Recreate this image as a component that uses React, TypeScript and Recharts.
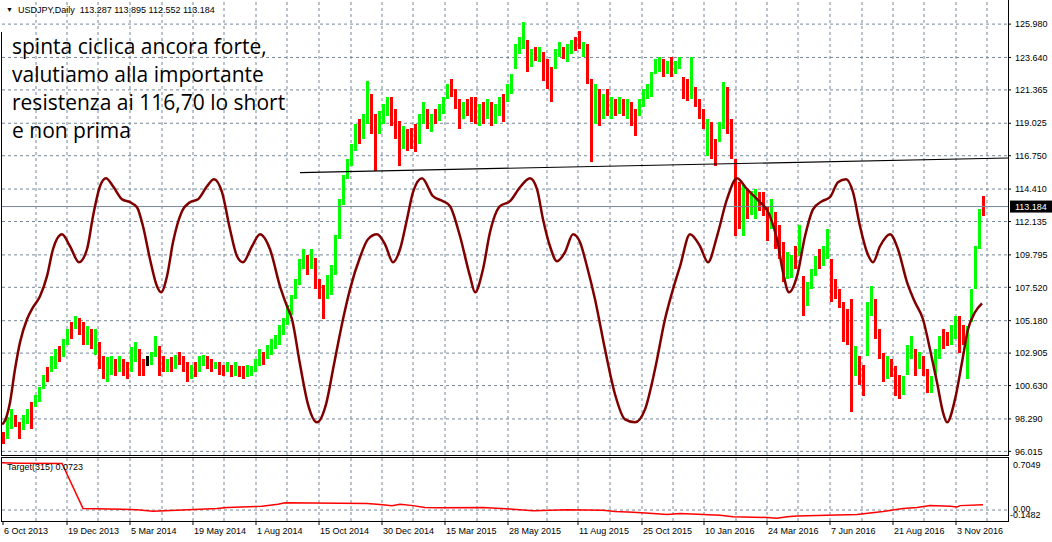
import React from 'react';
import {
  ComposedChart,
  Bar,
  Line,
  XAxis,
  YAxis,
  CartesianGrid,
  ReferenceLine,
} from 'recharts';

const FONT = '"Liberation Sans", Arial, sans-serif';
const GRID = '#778899';

// one bar index ~ one trading day; candles sampled every 4 bars
const barStart = 2;
const barStep = 4;

const barHigh = [
  97.4, 98.4, 98.96, 98.6, 98.1, 98.6, 98.96, 99.5, 100.0, 100.5,
  101.4, 101.9, 102.7, 103.2, 103.4, 103.9, 104.6, 105.1, 105.5, 105.4,
  105.1, 104.8, 104.6, 104.6, 103.7, 102.7, 102.6, 102.7, 102.5, 102.7,
  102.5, 102.3, 103.3, 103.7, 103.2, 102.5, 102.7, 103.0, 104.1, 103.4,
  102.7, 102.5, 102.6, 102.8, 103.0, 102.7, 102.3, 102.1, 102.3, 102.7,
  102.8, 102.7, 102.5, 102.3, 102.3, 102.1, 102.3, 102.1, 102.3, 102.0,
  102.0, 102.1, 102.0, 102.5, 103.2, 103.0, 103.5, 103.9, 104.2, 104.9,
  105.4, 106.3, 107.0, 108.1, 109.5, 110.2, 109.8, 110.2, 109.6, 108.1,
  107.7, 108.4, 109.1, 111.2, 113.7, 115.4, 116.5, 117.6, 119.0, 119.3,
  119.7, 122.0, 121.1, 119.7, 119.9, 120.4, 120.9, 120.9, 120.0, 119.2,
  118.8, 118.6, 118.7, 119.0, 119.7, 120.5, 120.0, 119.7, 120.0, 120.4,
  120.9, 121.8, 122.1, 121.4, 120.7, 120.5, 120.7, 120.9, 120.9, 120.4,
  120.5, 120.7, 120.5, 120.4, 120.9, 121.1, 121.8, 122.5, 124.6, 125.1,
  126.1, 124.9, 124.2, 124.4, 124.4, 124.0, 123.5, 123.0, 124.2, 124.7,
  124.4, 124.6, 124.9, 125.1, 125.5, 124.7, 124.6, 122.1, 121.8, 121.4,
  121.1, 121.4, 120.9, 120.7, 120.9, 120.7, 120.7, 120.5, 120.0, 120.7,
  121.4, 121.8, 122.6, 123.5, 123.7, 123.5, 123.4, 123.7, 123.4, 123.7,
  122.3, 122.1, 123.7, 121.6, 120.7, 120.0, 119.3, 119.1, 117.9, 119.1,
  121.9, 121.6, 119.3, 116.5, 114.9, 114.7, 114.4, 114.3, 114.4, 114.2,
  114.2, 113.2, 113.7, 112.8, 111.9, 110.7, 110.0, 109.8, 110.4, 111.9,
  108.3, 107.9, 108.8, 109.7, 110.2, 110.4, 111.6, 109.5, 108.1, 107.4,
  106.5, 106.0, 106.7, 103.4, 102.7, 102.1, 106.5, 107.6, 106.7, 104.6,
  102.9, 102.7, 102.5, 102.0, 101.4, 101.3, 103.5, 104.1, 103.2, 103.0,
  102.7, 101.8, 101.3, 103.2, 104.1, 104.6, 104.4, 104.9, 105.5, 105.5,
  104.9, 104.8, 107.4, 110.4, 113.0, 113.895,
];

const barLow = [
  96.5, 96.9, 97.6, 97.7, 96.9, 97.5, 97.9, 97.6, 99.1, 99.5,
  100.4, 100.9, 101.6, 101.8, 102.3, 102.6, 103.5, 103.9, 104.6, 104.2,
  103.5, 103.5, 103.2, 102.8, 101.8, 101.1, 100.9, 101.4, 101.3, 101.6,
  101.3, 101.1, 101.6, 102.3, 101.3, 101.3, 102.0, 102.1, 102.6, 101.3,
  101.6, 101.6, 101.6, 101.8, 102.1, 101.6, 100.9, 101.1, 101.2, 101.6,
  102.0, 101.8, 101.6, 101.8, 101.4, 101.3, 101.6, 101.2, 101.3, 101.2,
  101.1, 101.2, 101.3, 101.6, 102.0, 102.1, 102.5, 102.8, 103.2, 103.5,
  104.2, 104.9, 105.6, 106.7, 107.7, 108.8, 108.4, 108.8, 107.4, 106.7,
  105.3, 106.7, 107.0, 108.4, 110.9, 113.3, 115.1, 116.0, 117.1, 117.6,
  117.9, 119.0, 118.3, 115.7, 118.3, 119.0, 119.5, 118.8, 117.9, 116.0,
  117.2, 117.1, 117.2, 117.0, 117.6, 119.0, 118.6, 118.4, 119.0, 119.2,
  119.7, 120.7, 120.9, 120.0, 118.6, 119.3, 119.5, 119.1, 119.0, 118.8,
  119.0, 119.3, 118.8, 119.0, 119.5, 119.1, 120.5, 121.1, 122.8, 123.9,
  124.2, 122.6, 123.0, 123.4, 123.3, 122.0, 121.4, 120.5, 122.8, 123.7,
  123.5, 123.3, 123.9, 124.1, 124.2, 123.7, 121.8, 116.3, 119.0, 118.8,
  119.3, 119.5, 119.3, 119.5, 119.7, 119.5, 119.3, 118.8, 118.1, 119.5,
  120.2, 120.7, 120.9, 122.5, 122.6, 122.3, 122.5, 122.3, 122.5, 122.8,
  120.7, 120.6, 120.7, 120.2, 119.3, 118.6, 116.7, 116.5, 116.0, 117.7,
  118.6, 118.3, 116.5, 111.1, 111.6, 111.1, 112.3, 112.6, 112.3, 112.9,
  112.5, 110.8, 111.6, 110.2, 109.5, 107.9, 108.1, 108.2, 108.8, 109.7,
  105.5, 106.2, 107.4, 108.3, 108.8, 109.0, 109.5, 106.5, 106.7, 106.1,
  103.7, 103.5, 98.8, 101.3, 100.7, 99.9, 102.7, 105.5, 103.9, 102.5,
  100.9, 101.1, 101.2, 99.9, 99.7, 100.0, 101.4, 102.5, 101.3, 101.8,
  101.3, 100.1, 100.1, 101.4, 102.5, 103.2, 103.4, 103.5, 103.9, 102.9,
  103.5, 101.1, 105.1, 107.4, 110.2, 112.552,
];

// g = up candle, r = down candle, k = doji
const barDir =
  'rggrrggrgg' + 'grggrggrgr' + 'rgrgrrggrg' + 'rrggrrkggr' + 'rgrgrrrgrg' +
  'grrgrrgrgr' + 'rggggrgggg' + 'ggggggrgrr' + 'rggggggggr' + 'ggrrgggrrr' +
  'grrrggrgrg' + 'ggrrrgrrrg' + 'rgrggrgggg' + 'grgrgrrrgg' + 'rggrrgrrgr' +
  'grgrgrgrrg' + 'gggggrgrgg' + 'rrgrrrgrrg' + 'grrrrgrggr' + 'rrgrrrggrg' +
  'rgggrggrrr' + 'rrrgrrggrr' + 'rgrrrgggrg' + 'rrgggrrggr' + 'rggggr';

// cyclic indicator drawn over price
const cycleT = [
  0, 2, 8, 13, 18, 25, 31, 38, 45, 51,
  60, 68, 77, 85, 91, 98, 104, 111, 120, 128,
  135, 141, 148, 155, 159, 165, 171, 180, 188, 196,
  205, 212, 220, 228, 235, 241, 250, 258, 268, 278,
  285, 290, 298, 306, 315, 324, 332, 341, 348, 358,
  366, 375, 383, 391, 398, 405, 411, 420, 431, 441,
  448, 458, 468, 473, 481, 488, 498, 508, 518, 528,
  535, 541, 548, 555, 563, 571, 578, 585, 593, 603,
  613, 623, 633, 643, 653, 663, 671, 678, 688, 698,
  706, 715, 725, 735, 745, 755, 768, 775, 781, 787,
  795, 803, 811, 820, 828, 836, 844, 851, 858, 865,
  871, 878, 888, 896, 905, 913, 921, 928, 935, 941,
  945, 953, 960, 966, 973, 980,
];
const cycleV = [
  97.91, 98.05, 99.45, 101.77, 103.66, 105.28, 106.12, 106.89, 108.3, 110.19,
  111.24, 110.4, 109.28, 110.19, 112.51, 114.61, 115.17, 114.61, 113.7, 113.49,
  113.14, 111.8, 109.49, 107.59, 107.17, 108.3, 110.68, 112.86, 113.49, 113.7,
  114.61, 115.1, 114.19, 111.59, 109.7, 109.28, 110.4, 111.24, 110.19, 107.59,
  106.19, 105.28, 102.12, 99.31, 98.05, 99.31, 102.12, 105.28, 107.38, 109.63,
  110.89, 111.24, 110.54, 109.28, 110.19, 112.3, 114.19, 115.17, 113.91, 113.56,
  113.21, 111.1, 108.3, 107.17, 108.79, 111.38, 113.21, 113.56, 114.54, 115.17,
  114.4, 112.3, 110.4, 109.35, 109.98, 111.24, 110.68, 108.98, 106.68, 103.17,
  100.02, 98.26, 98.05, 98.96, 101.77, 105.28, 107.38, 108.98, 111.24, 110.4,
  109.28, 111.1, 113.7, 115.17, 114.4, 113.7, 112.51, 110.89, 108.58, 107.17,
  108.3, 111.1, 112.99, 113.56, 113.84, 114.89, 115.1, 114.19, 111.8, 109.98,
  109.28, 110.4, 111.24, 110.19, 107.88, 106.47, 105.28, 103.17, 100.86, 98.75,
  98.05, 99.66, 102.26, 104.58, 105.77, 106.4,
];

// resistance trend line
const trendT = [298, 1006];
const trendV = [115.57, 116.59];

// Target(315) sub-window
const targetT = [
  0, 18, 60, 81, 120, 135, 151, 180, 198, 215,
  225, 260, 276, 283, 365, 378, 390, 398, 411, 423,
  438, 481, 508, 531, 565, 601, 613, 631, 651, 665,
  678, 701, 718, 731, 765, 775, 785, 795, 825, 855,
  868, 881, 891, 901, 915, 928, 948, 955, 958, 981,
];
const targetV = [
  0.64, 0.635, 0.63, 0.022, 0.012, 0.005, -0.017, 0.0, 0.01, 0.02,
  0.036, 0.05, 0.08, 0.1, 0.09, 0.076, 0.06, 0.08, 0.06, 0.036,
  0.03, 0.036, 0.015, -0.01, 0.005, -0.003, -0.02, -0.03, -0.045, -0.06,
  -0.045, -0.06, -0.07, -0.09, -0.1, -0.11, -0.09, -0.08, -0.07, -0.06,
  -0.04, -0.02, 0.0, 0.02, 0.035, 0.06, 0.05, 0.04, 0.06, 0.0723,
];

const priceTicks = [
  125.98, 123.64, 121.365, 119.025, 116.75, 114.41, 112.135, 109.795,
  107.52, 105.18, 102.905, 100.63, 98.29, 96.015,
];
const priceDomain = [95.69, 127.53];
const lastPrice = 113.184;
const ohlc = [113.287, 113.895, 112.552, 113.184];

const targetTicks = [0.7049, 0, -0.1482];
const targetLast = 0.0723;

const dateT = [1, 65, 128, 191, 254, 317, 380, 443, 506, 576, 640, 702, 765, 828, 891, 954];
const dateLabels = [
  '6 Oct 2013', '19 Dec 2013', '5 Mar 2014', '19 May 2014', '1 Aug 2014',
  '15 Oct 2014', '30 Dec 2014', '15 Mar 2015', '28 May 2015', '11 Aug 2015',
  '25 Oct 2015', '10 Jan 2016', '24 Mar 2016', '7 Jun 2016', '21 Aug 2016',
  '3 Nov 2016',
];
const gridT = [
  34, 65, 96, 128, 160, 191, 222, 254, 285, 317, 349, 380, 411, 443, 475,
  506, 545, 576, 608, 640, 671, 702, 734, 765, 796, 828, 860, 891, 922, 954, 985,
];
const xDomain = [0, 1006];

const note = [
  'spinta ciclica ancora forte,',
  'valutiamo alla importante',
  'resistenza ai 116,70 lo short',
  'e non prima',
];

const colorOf = (d: string) => (d === 'g' ? '#00ff00' : d === 'r' ? '#ff0000' : '#000000');

// candle drawn as a solid high-low column centred on the bar slot
function Candle(props: any) {
  const { x, y, width, height } = props;
  const dir = props.dir ?? (props.payload ? props.payload.dir : 'g');
  if (x == null || y == null || height == null || isNaN(+y) || isNaN(+height)) return null;
  const cx = +x + (+width || 0) / 2;
  const top = +height < 0 ? +y + +height : +y;
  return (
    <rect
      x={cx - 1.5}
      y={top}
      width={3}
      height={Math.max(1, Math.abs(+height))}
      fill={colorOf(dir)}
      shapeRendering="crispEdges"
    />
  );
}

function PriceTag(props: any) {
  const vb = props.viewBox || {};
  const x = vb.x + vb.width;
  const y = vb.y;
  return (
    <g>
      <rect x={x + 2} y={y - 6} width={42} height={12} fill="#000" />
      <text x={x + 7} y={y + 3.5} fill="#fff" fontSize={9} fontFamily={FONT}>
        {lastPrice.toFixed(3)}
      </text>
    </g>
  );
}

function DateTick(props: any) {
  const { x, y, payload } = props;
  const i = dateT.indexOf(payload.value);
  return (
    <text x={x + 1} y={y + 9} fontSize={9} fontFamily={FONT} fill="#000" textAnchor="start">
      {i >= 0 ? dateLabels[i] : ''}
    </text>
  );
}

function TargetTick(props: any) {
  const { x, y, payload } = props;
  const v = payload.value;
  const label = v === 0 ? '0.00' : v.toFixed(4);
  const dy = v > 0.5 ? 10 : v === 0 ? 2 : -3;
  const dx = v < 0 ? -3 : 0;
  return (
    <text x={x + dx} y={y + dy} fontSize={9} fontFamily={FONT} fill="#000" textAnchor="start">
      {label}
    </text>
  );
}

export default function App() {
  const bars = barHigh.map((h, i) => ({
    t: barStart + i * barStep,
    range: [barLow[i], h],
    dir: barDir[i],
  }));
  const cycle = cycleT.map((t, i) => ({ t, v: cycleV[i] }));
  const trend = trendT.map((t, i) => ({ t, v: trendV[i] }));
  const target = targetT.map((t, i) => ({ t, v: targetV[i] }));

  return (
    <div
      style={{
        position: 'absolute',
        left: 0,
        top: 0,
        width: 1052,
        height: 542,
        background: '#fff',
        overflow: 'hidden',
        fontFamily: FONT,
      }}
    >
      <div style={{ position: 'absolute', left: 0, top: 0 }}>
        <ComposedChart width={1052} height={458} data={bars} margin={{ top: 2, right: 0, bottom: 2, left: 2 }}>
          <CartesianGrid
            stroke={GRID}
            strokeDasharray="3 3"
            horizontalValues={priceTicks}
            verticalValues={gridT}
          />
          <XAxis dataKey="t" type="number" domain={xDomain} allowDataOverflow hide ticks={gridT} />
          <YAxis
            orientation="right"
            type="number"
            domain={priceDomain}
            allowDataOverflow
            ticks={priceTicks}
            interval={0}
            width={44}
            tickSize={3}
            tickMargin={4}
            axisLine={false}
            tickLine={{ stroke: '#000' }}
            tick={{ fontSize: 9, fill: '#000', fontFamily: FONT }}
            tickFormatter={(v: number) => v.toFixed(3)}
          />
          <ReferenceLine y={lastPrice} stroke={GRID} label={<PriceTag />} />
          <Bar dataKey="range" barSize={3} shape={<Candle />} isAnimationActive={false} />
          <Line
            data={trend}
            dataKey="v"
            type="linear"
            stroke="#000"
            strokeWidth={1.2}
            dot={false}
            activeDot={false}
            isAnimationActive={false}
          />
          <Line
            data={cycle}
            dataKey="v"
            type="monotone"
            stroke="#800000"
            strokeWidth={2.5}
            dot={false}
            activeDot={false}
            isAnimationActive={false}
          />
        </ComposedChart>
      </div>

      <div style={{ position: 'absolute', left: 0, top: 457 }}>
        <ComposedChart width={1052} height={85} data={target} margin={{ top: 1, right: 0, bottom: 0, left: 2 }}>
          <CartesianGrid stroke={GRID} strokeDasharray="3 3" horizontalValues={[0]} verticalValues={gridT} />
          <XAxis
            dataKey="t"
            type="number"
            domain={xDomain}
            allowDataOverflow
            ticks={dateT}
            interval={0}
            height={21}
            tickSize={4}
            tickMargin={0}
            axisLine={false}
            tickLine={{ stroke: '#000' }}
            tick={<DateTick />}
          />
          <YAxis
            orientation="right"
            type="number"
            domain={[targetTicks[2], targetTicks[0]]}
            allowDataOverflow
            ticks={targetTicks}
            interval={0}
            width={44}
            tickSize={0}
            tickMargin={5}
            axisLine={false}
            tick={<TargetTick />}
          />
          <Line
            dataKey="v"
            type="linear"
            stroke="#ff0000"
            strokeWidth={1.5}
            dot={false}
            activeDot={false}
            isAnimationActive={false}
          />
        </ComposedChart>
      </div>

      {/* window frames */}
      <div style={{ position: 'absolute', left: 1, top: 32, width: 1, height: 424, background: '#000' }} />
      <div style={{ position: 'absolute', left: 1, top: 455, width: 1008, height: 1, background: '#000' }} />
      <div style={{ position: 'absolute', left: 1008, top: 0, width: 1, height: 456, background: '#000' }} />
      <div
        style={{
          position: 'absolute',
          left: 1,
          top: 457,
          width: 1008,
          height: 65,
          border: '1px solid #000',
          boxSizing: 'border-box',
        }}
      />

      {/* header */}
      <div style={{ position: 'absolute', left: 6, top: 4, fontSize: 7, lineHeight: '12px', color: '#000' }}>▼</div>
      <div style={{ position: 'absolute', left: 18, top: 4, fontSize: 9, lineHeight: '12px', color: '#000', whiteSpace: 'pre' }}>
        {'USDJPY,Daily  ' + ohlc.map((v) => v.toFixed(3)).join(' ')}
      </div>
      <div style={{ position: 'absolute', left: 7, top: 461, fontSize: 9, lineHeight: '12px', color: '#000', whiteSpace: 'pre' }}>
        {'Target(315) ' + targetLast.toFixed(4)}
      </div>

      {/* annotation */}
      <div
        style={{
          position: 'absolute',
          left: 12,
          top: 32,
          fontFamily: '"Open Sans", sans-serif',
          fontSize: 21,
          lineHeight: '28px',
          color: '#000',
          whiteSpace: 'pre',
        }}
      >
        {note.join('\n')}
      </div>
    </div>
  );
}
